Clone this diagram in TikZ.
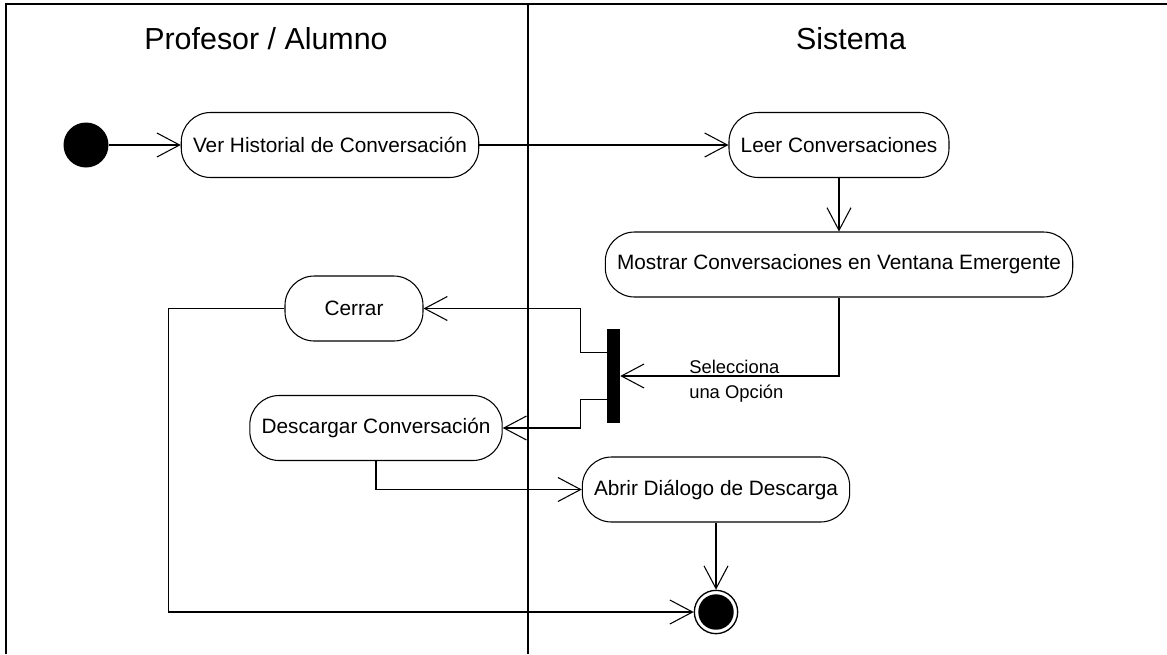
\documentclass[tikz,border=0pt]{standalone}
\usepackage{fontspec}
\setmainfont{Liberation Sans}
\usetikzlibrary{calc}
\usetikzlibrary{positioning}
\usetikzlibrary{arrows.meta}
\tikzset{
	>={Straight Barb[length=17pt,width=18pt]},
	actividad/.style={
		rectangle,
		rounded corners=22pt,
		draw=black, line width=0.8pt,
		minimum height=48.75pt,
		inner xsep=8.8pt,
		font=\fontsize{15.6}{18}\selectfont,
		text centered},
	inicio/.style={circle, fill=black, minimum size=33.75pt, inner sep=0pt},
	fin/.style={
		circle, draw=black, line width=1pt, fill=white,
		minimum size=32.5pt, inner sep=0pt,
		path picture={\fill[black] (path picture bounding box.center) circle (13.3pt);}},
	barra/.style={rectangle, fill=black, minimum width=9.75pt, minimum height=70.5pt, inner sep=0pt},
	linea/.style={draw, line width=0.8pt, ->},
	carril/.style={draw, line width=1.5pt},
	titulo/.style={font=\fontsize{22.8}{26}\selectfont, anchor=base},
	etiqueta/.style={font=\fontsize{13.8}{18.75}\selectfont, align=left, anchor=west, inner sep=0pt},
}

\begin{document}
\begin{tikzpicture}
		[x=0.75pt, y=-0.75pt]
		\useasboundingbox (0,0) rectangle (1167,654);
		% carriles
		\draw[carril] (6,654) -- (6,4) -- (1167,4);
		\draw[carril] (528,4) -- (528,654);
		\node[titulo] (profesor) at (266,49) {Profesor / Alumno};
		\node[titulo] (sistema) at (851,49) {Sistema};
		
		\node[inicio] (ini) at (86,145) {};
		\node[actividad] (ver) at (330,145) {Ver Historial de Conversación};
		\node[actividad] (leer) at (839,145) {Leer Conversaciones};
		\node[actividad] (mostrar) at (839,264.5) {Mostrar Conversaciones en Ventana Emergente};
		\node[actividad, minimum width=103.5pt] (cerrar) at (354,308.5) {Cerrar};
		\node[barra] (opciones) at (613.5,376) {};
		\node[actividad] (descargar) at (376,428) {Descargar Conversación};
		\node[actividad] (abrir) at (716,489.5) {Abrir Diálogo de Descarga};
		\node[fin] (fin) at (716,612) {};
		\node[etiqueta] (selecciona) at (689,381) {Selecciona\\una Opción};
		
		\draw[linea] (ini) -- (ver);
		\draw[linea] (ver) -- (leer);
		\draw[linea] (leer) -- (mostrar);
		\draw[linea] (mostrar.south) |- (opciones.east);
		\draw[linea] ($(opciones.north west)!0.25!(opciones.south west)$) -- ++(-26,0) |- (cerrar.east);
		\draw[linea] ($(opciones.north west)!0.75!(opciones.south west)$) -- ++(-26,0) |- (descargar.east);
		\draw[linea] (descargar.south) |- (abrir.west);
		\draw[linea] (abrir) -- (fin);
		\draw[linea] (cerrar.west) -- ++(-116,0) |- (fin.west);
\end{tikzpicture}
\end{document}
